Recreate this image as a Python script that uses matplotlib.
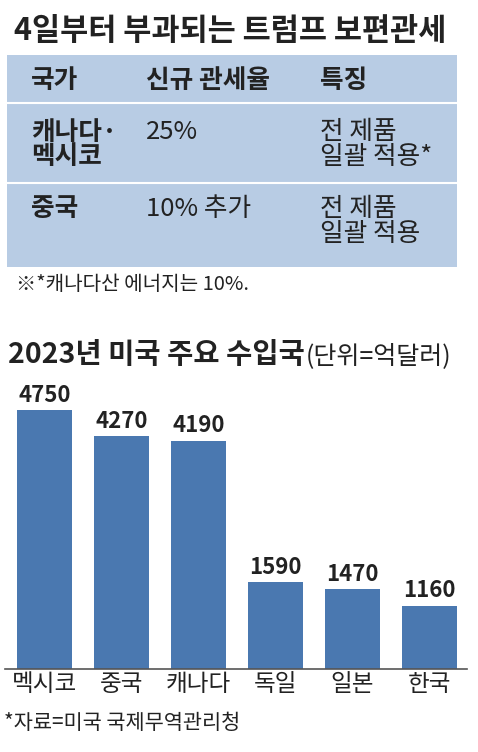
import matplotlib
matplotlib.use('Agg')
import matplotlib.pyplot as plt
from matplotlib.patches import Rectangle
from matplotlib.lines import Line2D

plt.rcParams['font.family'] = ['Noto Sans CJK KR', 'DejaVu Sans']

# data
countries = ['멕시코', '중국', '캐나다', '독일', '일본', '한국']
imports = [4750, 4270, 4190, 1590, 1470, 1160]

table_head = ['국가', '신규 관세율', '특징']
table_rows = [
    ['캐나다·\n멕시코', '25%', '전 제품\n일괄 적용*'],
    ['중국', '10% 추가', '전 제품\n일괄 적용'],
]

W, H = 478, 752
fig = plt.figure(figsize=(W / 100, H / 100), dpi=100)
fig.patch.set_facecolor('white')

def fx(x):
    return x / W

def fy(y):
    return 1 - y / H

txt = '#222222'
tbl_bg = '#b8cce4'
bar_col = '#4a78b0'

# top title
fig.text(fx(14), fy(31), '4일부터 부과되는 트럼프 보편관세', fontsize=22, fontweight='bold',
         color=txt, va='center', ha='left')

# table
fig.patches.append(Rectangle((fx(7), fy(267)), fx(457) - fx(7), fy(55) - fy(267),
                             transform=fig.transFigure, facecolor=tbl_bg, edgecolor='none'))
for yy in (103, 183):
    fig.lines.append(Line2D([fx(7), fx(457)], [fy(yy), fy(yy)], transform=fig.transFigure,
                            color='white', lw=1.5))

col_x = [31, 146, 320]
for i, h in enumerate(table_head):
    fig.text(fx(col_x[i]), fy(81), h, fontsize=18.5, fontweight='bold', color=txt,
             va='center', ha='left')

row_lines_y = [(132, 157), (209, 234)]
for r, row in enumerate(table_rows):
    for i, cell in enumerate(row):
        for k, line in enumerate(cell.split('\n')):
            fig.text(fx(col_x[i]), fy(row_lines_y[r][k]), line, fontsize=18.5,
                     fontweight='bold' if i == 0 else 'normal', color=txt,
                     va='center', ha='left')

fig.text(fx(16), fy(284), '※*캐나다산 에너지는 10%.', fontsize=14.5, color=txt,
         va='center', ha='left')

# chart title
fig.text(fx(8), fy(355), '2023년 미국 주요 수입국', fontsize=20.5, fontweight='bold',
         color=txt, va='center', ha='left')
fig.text(fx(306), fy(356), '(단위=억달러)', fontsize=18, color=txt,
         va='center', ha='left')

# bar chart
ax_left, ax_right = 5, 467
ax_bottom, ax_top = 669, 380
ax = fig.add_axes([fx(ax_left), fy(ax_bottom), fx(ax_right) - fx(ax_left),
                   fy(ax_top) - fy(ax_bottom)])
pos = list(range(len(countries)))
ax.bar(pos, imports, width=0.72, color=bar_col)
ax.set_xlim(-0.513, 5.49)
ax.set_ylim(0, 4750 * (ax_bottom - ax_top) / 259)
for p, v in zip(pos, imports):
    ax.text(p, v + 60, str(v), ha='center', va='bottom', fontsize=16,
            fontweight='bold', color=txt)
for s in ['top', 'right', 'left']:
    ax.spines[s].set_visible(False)
ax.spines['bottom'].set_color('#555555')
ax.spines['bottom'].set_linewidth(1.2)
ax.set_yticks([])
ax.set_xticks(pos)
ax.set_xticklabels(countries, fontsize=17, color=txt)
ax.tick_params(axis='x', length=0, pad=3)
ax.patch.set_alpha(0)

fig.text(fx(4), fy(723), '*자료=미국 국제무역관리청', fontsize=15, color=txt,
         va='center', ha='left')

fig.savefig('out.png', dpi=100)
